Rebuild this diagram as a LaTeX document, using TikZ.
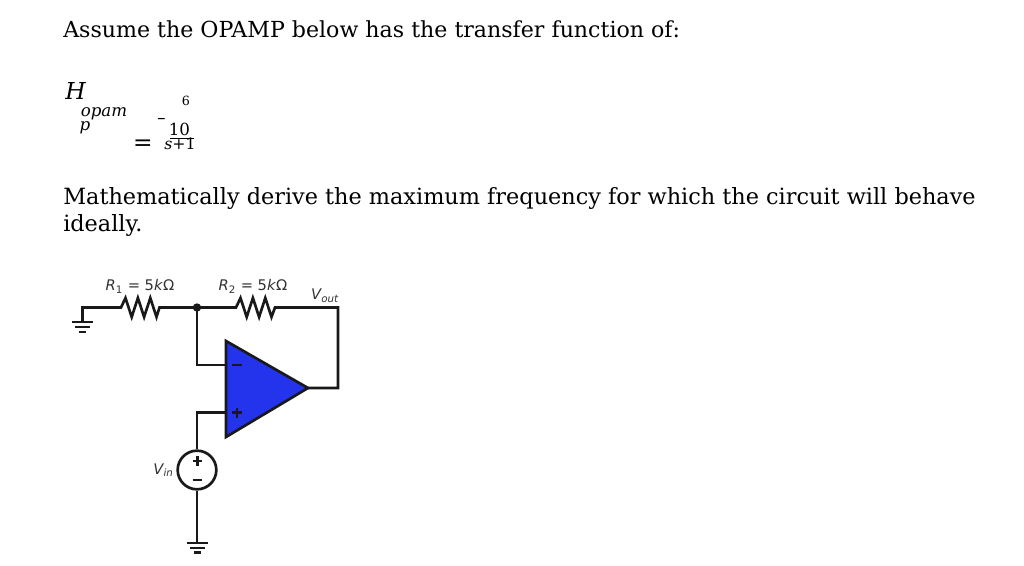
\documentclass[tikz,border=0pt]{standalone}
\usepackage{fontspec}
\setmainfont{DejaVu Serif}
\newfontfamily\lblfont{DejaVu Sans}
\definecolor{opblue}{HTML}{2433EC}
\definecolor{lbl}{HTML}{333333}
\tikzset{
 body/.style={inner sep=0pt,anchor=base west,font=\fontsize{#1}{20}\selectfont},
 mathtxt/.style={inner sep=0pt,anchor=base,font=\fontsize{#1}{20}\selectfont\itshape},
 mathup/.style={inner sep=0pt,anchor=base,font=\fontsize{#1}{20}\selectfont},
 clabel/.style={inner sep=0pt,anchor=base,text=lbl,font=\lblfont\fontsize{11}{13}\selectfont},
 wire/.style={line width=2pt,line join=miter,black!90},
 gbar/.style={line width=2pt,black!90},
 sign/.style={line width=2pt,black!90}
}
\begin{document}
\begin{tikzpicture}[x=0.75pt,y=-0.75pt]
\useasboundingbox (0,0) rectangle (1024,566);
\node[body=16.58] (t1) at (63,38) {Assume the OPAMP below has the transfer function of:};
\node[body=16.78] (t2) at (63,205) {Mathematically derive the maximum frequency for which the circuit will behave};
\node[body=16.78] (t3) at (63,231.5) {ideally.};
\node[mathtxt=17.5] (mh) at (75.5,100) {H};
\node[mathtxt=12.5] (mo) at (104,116.5) {opam};
\node[mathtxt=12.5] (mp) at (85,130.5) {p};
\node[mathup=17.5] (meq) at (143,150.5) {=};
\node[mathup=8.2] (mm) at (161.5,122.5) {\bfseries −};
\node[mathup=9.5] (m6) at (186,106) {6};
\node[mathup=12.5] (m10) at (179.5,136) {10};
\coordinate (fa) at (170,138.5);
\coordinate (fb) at (194,138.5);
\draw[line width=0.9pt] (fa) -- (fb);
\node[mathup=11.8] (ms) at (180,150) {\textit{s}+1};

% circuit
\coordinate (g1) at (82.5,322);
\coordinate (gc) at (82.5,307.5);
\coordinate (r1a) at (121,307.5);
\coordinate (r1b) at (159.5,307.5);
\coordinate (j) at (197,307.5);
\coordinate (r2a) at (236,307.5);
\coordinate (r2b) at (275,307.5);
\coordinate (rt) at (338,307.5);
\coordinate (rb) at (338,388);
\coordinate (tip) at (308,388);
\coordinate (otl) at (226,341);
\coordinate (obl) at (226,437);
\coordinate (inm) at (226,365);
\coordinate (inp) at (226,412.7);
\coordinate (cm) at (197,365);
\coordinate (cp) at (197,412.7);
\node[circle,draw=black!90,line width=2pt,minimum size=29pt,inner sep=0pt,fill=white] (src) at (197,470) {};
\coordinate (g2) at (197,543);

\draw[wire,fill=opblue] (otl) -- (tip) -- (obl) -- cycle;
\draw[wire] (g1) -- (gc) -- (r1a)
  -- ++(4.5,-9.5) -- ++(6.2,19) -- ++(6.2,-19) -- ++(6.2,19) -- ++(6.2,-19) -- ++(6.2,19) -- (r1b) -- (j) -- (r2a)
  -- ++(4.5,-9.5) -- ++(6.2,19) -- ++(6.2,-19) -- ++(6.2,19) -- ++(6.2,-19) -- ++(6.2,19) -- (r2b) -- (rt) -- (rb) -- (tip);
\draw[wire] (j) -- (cm) -- (inm);
\draw[wire] (src.north) -- (cp) -- (inp);
\draw[wire] (src.south) -- (g2);
\fill[black!90] (j) circle (4.2);

\draw[gbar] (72,322) -- (93,322) (75,327) -- (90,327) (79,332) -- (86,332);
\draw[gbar] (187,543) -- (208,543) (190,548) -- (205,548) (194,552.5) -- (201,552.5);

\draw[sign] (232,365) -- (242,365) (232,412.7) -- (242,412.7) (237,407.7) -- (237,417.7);
\draw[sign] (192.5,461) -- (202,461) (197.2,456) -- (197.2,466) (192.5,480) -- (202,480);

\node[clabel] (lr1) at (140,291) {\textit{R}\textsubscript{1} = 5\textit{k}Ω};
\node[clabel] (lr2) at (253,291) {\textit{R}\textsubscript{2} = 5\textit{k}Ω};
\node[clabel] (lvo) at (325,300) {\textit{V\textsubscript{out}}};
\node[clabel] (lvi) at (163.5,474) {\textit{V\textsubscript{in}}};
\end{tikzpicture}
\end{document}
